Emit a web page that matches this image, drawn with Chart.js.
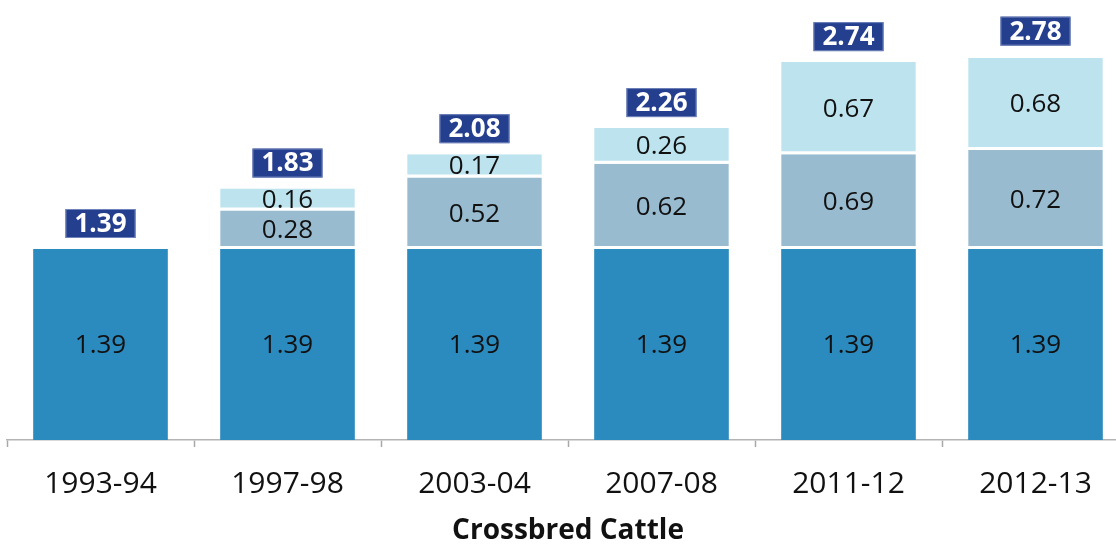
<!DOCTYPE html>
<html>
<head>
<meta charset="utf-8">
<script src="https://cdn.jsdelivr.net/npm/chart.js@4.4.1/dist/chart.umd.min.js"></script>
<style>
  html, body { margin: 0; padding: 0; overflow: hidden; background: #fff; }
  #wrap { width: 1116px; height: 545px; overflow: hidden; }
</style>
</head>
<body>
<div id="wrap"><canvas id="chart1" width="1140" height="545"></canvas></div>
<script>
var categories = ['1993-94', '1997-98', '2003-04', '2007-08', '2011-12', '2012-13'];
var baseValues = [1.39, 1.39, 1.39, 1.39, 1.39, 1.39];
var middleValues = [null, 0.28, 0.52, 0.62, 0.69, 0.72];
var topValues = [null, 0.16, 0.17, 0.26, 0.67, 0.68];
var totalLabels = [1.39, 1.83, 2.08, 2.26, 2.74, 2.78];

var FONT = '"Open Sans", "Noto Sans", sans-serif';

// draws the value inside each segment and the navy total box above each stack
var labelPlugin = {
    id: 'segmentLabels',
    afterDatasetsDraw: function (chart) {
        var ctx = chart.ctx;
        ctx.save();
        ctx.textAlign = 'center';
        ctx.textBaseline = 'middle';

        chart.data.datasets.forEach(function (ds, i) {
            var meta = chart.getDatasetMeta(i);
            meta.data.forEach(function (bar, j) {
                var v = ds.data[j];
                if (v === null || v === undefined) return;
                ctx.fillStyle = '#111';
                ctx.font = '26px ' + FONT;
                ctx.fillText(v.toFixed(2), bar.x, (bar.y + bar.base) / 2 + 1);
            });
        });

        categories.forEach(function (c, j) {
            var topY = Infinity, x = 0;
            chart.data.datasets.forEach(function (ds, i) {
                var bar = chart.getDatasetMeta(i).data[j];
                if (ds.data[j] !== null && bar.y < topY) { topY = bar.y; x = bar.x; }
            });
            var txt = totalLabels[j].toFixed(2);
            ctx.font = 'bold 26px ' + FONT;
            var w = ctx.measureText(txt).width + 18;
            var h = 29;
            var bottom = topY - 11;
            ctx.fillStyle = '#253f8f';
            ctx.fillRect(x - w / 2, bottom - h, w, h);
            ctx.strokeStyle = '#7083bb';
            ctx.lineWidth = 1;
            ctx.strokeRect(x - w / 2 + 0.5, bottom - h + 0.5, w - 1, h - 1);
            ctx.fillStyle = '#fff';
            ctx.fillText(txt, x, bottom - h / 2 + 1);
        });
        ctx.restore();
    }
};

var ctx = document.getElementById('chart1').getContext('2d');
var chart = new Chart(ctx, {
    type: 'bar',
    data: {
        labels: categories,
        datasets: [{
            label: 'Base',
            data: baseValues,
            backgroundColor: '#2b8abe'
        }, {
            label: 'Middle',
            data: middleValues,
            backgroundColor: '#98bbd0',
            borderColor: '#fff',
            borderWidth: { bottom: 3, top: 0, left: 0, right: 0 },
            borderSkipped: false
        }, {
            label: 'Top',
            data: topValues,
            backgroundColor: '#bde3ee',
            borderColor: '#fff',
            borderWidth: { bottom: 3, top: 0, left: 0, right: 0 },
            borderSkipped: false
        }]
    },
    plugins: [labelPlugin],
    options: {
        responsive: false,
        animation: false,
        categoryPercentage: 1,
        barPercentage: 0.72,
        layout: { padding: { left: 7, right: 11, top: 58, bottom: 0 } },
        plugins: {
            legend: { display: false },
            tooltip: { enabled: false }
        },
        scales: {
            x: {
                stacked: true,
                afterFit: function (scale) { scale.height = 105; },
                grid: {
                    drawOnChartArea: false,
                    offset: true,
                    tickLength: 7,
                    tickColor: '#a8a8a8',
                    tickWidth: 1.5
                },
                border: { color: '#b4b4b4', width: 1.5 },
                ticks: {
                    color: '#111',
                    font: { family: FONT, size: 30 },
                    padding: 19
                },
                title: {
                    display: true,
                    text: 'Crossbred Cattle',
                    color: '#111',
                    font: { family: FONT, size: 28, weight: 'bold', lineHeight: 1 },
                    padding: { top: 2, bottom: 0 }
                }
            },
            y: {
                stacked: true,
                display: false,
                min: 0,
                max: 2.78
            }
        }
    }
});
</script>
</body>
</html>
